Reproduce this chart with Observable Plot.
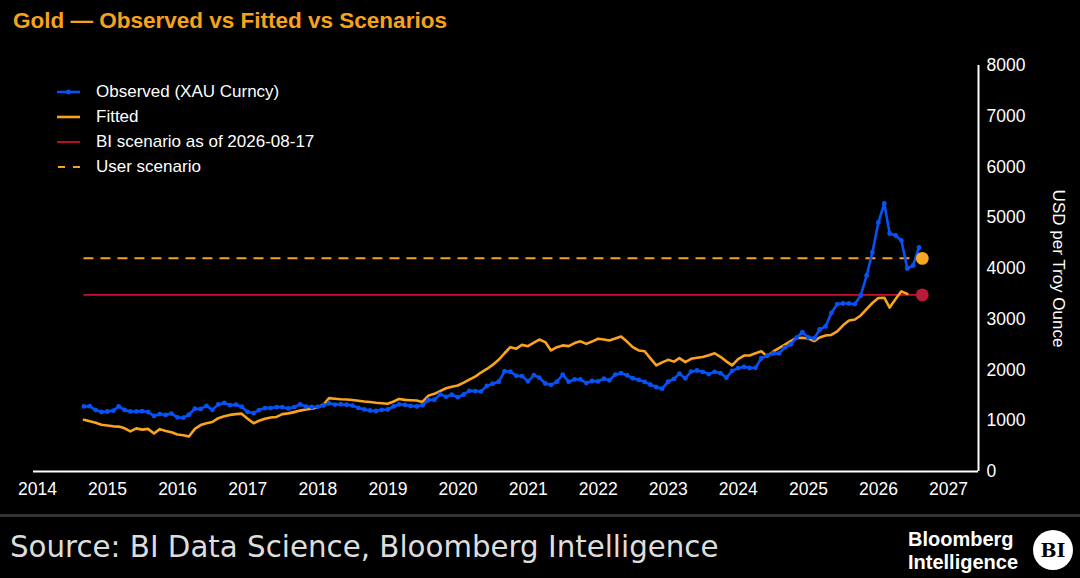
<!DOCTYPE html>
<html><head><meta charset="utf-8">
<script src="https://cdn.jsdelivr.net/npm/d3@7"></script>
<script src="https://cdn.jsdelivr.net/npm/@observablehq/plot@0.6"></script>
<style>
html,body{margin:0;padding:0;background:#000;}
#wrap{position:relative;width:1080px;height:578px;background:#000;overflow:hidden;font-family:"Liberation Sans",Arial,sans-serif;}
#title{position:absolute;left:13px;top:8px;font-size:22.5px;font-weight:bold;color:#F7A21B;white-space:nowrap;}
#chart{position:absolute;left:0;top:45px;}
#legend{position:absolute;left:57px;top:79px;}
.row{height:25px;display:flex;align-items:center;color:#fff;font-size:17px;white-space:nowrap;}
.row svg{margin-right:16px;flex:none;}
#sep{position:absolute;left:0;top:514px;width:1080px;height:3px;background:#333;}
#source{position:absolute;left:10px;top:530px;font-family:"DejaVu Sans",sans-serif;font-size:29.3px;color:#ddd;white-space:nowrap;}
#logo{position:absolute;left:908px;top:528px;color:#fff;font-weight:bold;font-size:20px;line-height:23px;}
#bi{position:absolute;left:1033px;top:530px;width:40px;height:40px;border-radius:50%;background:#fff;color:#000;font-family:"DejaVu Serif",serif;font-weight:bold;font-size:19px;display:flex;align-items:center;justify-content:center;}
</style></head>
<body>
<div id="wrap">
  <div id="title">Gold — Observed vs Fitted vs Scenarios</div>
  <div id="chart"></div>
  <div id="legend"></div>
  <div id="sep"></div>
  <div id="source">Source: BI Data Science, Bloomberg Intelligence</div>
  <div id="logo">Bloomberg<br>Intelligence</div>
  <div id="bi">BI</div>
</div>
<script>
// ---- Data (monthly, first point = end of Aug 2014) ----
const seriesNames = ["Observed (XAU Curncy)", "Fitted", "BI scenario as of 2026-08-17", "User scenario"];
const observed = [
  1282,1287,1210,1172,1182,1199,1283,1213,1183,1184,1190,1172,
  1095,1132,1115,1142,1065,1061,1118,1238,1233,1293,1215,1322,
  1351,1309,1316,1277,1173,1152,1211,1249,1249,1268,1268,1242,
  1269,1322,1280,1271,1275,1303,1345,1318,1325,1315,1299,1253,
  1224,1202,1192,1215,1222,1282,1321,1313,1292,1283,1305,1409,
  1414,1520,1472,1513,1464,1517,1589,1585,1577,1687,1730,1768,
  1975,1968,1886,1879,1777,1898,1848,1734,1708,1769,1907,1770,
  1814,1814,1743,1783,1775,1829,1797,1909,1937,1897,1837,1807,
  1766,1711,1661,1633,1768,1824,1928,1837,1969,1990,1963,1919,
  1965,1940,1849,1983,2036,2063,2039,2044,2230,2286,2327,2326,
  2447,2503,2635,2744,2643,2625,2798,2858,3124,3300,3310,3310,
  3300,3468,3862,4315,4906,5281,4690,4650,4552,4000,4059,4414
];
const fitted = [
  1020,990,960,920,905,890,885,850,790,850,825,840,
  750,835,800,775,730,715,690,840,915,950,975,1050,
  1090,1115,1130,1140,1040,950,1000,1040,1065,1075,1130,1145,
  1170,1200,1222,1235,1265,1320,1445,1435,1425,1418,1410,1395,
  1380,1370,1355,1345,1335,1380,1430,1412,1405,1400,1370,1495,
  1530,1585,1640,1670,1695,1750,1810,1870,1950,2020,2100,2200,
  2330,2450,2420,2495,2470,2540,2600,2550,2385,2450,2485,2470,
  2530,2565,2515,2560,2615,2600,2580,2620,2660,2560,2450,2385,
  2370,2230,2090,2150,2200,2165,2235,2155,2220,2240,2255,2290,
  2330,2260,2170,2090,2215,2285,2285,2330,2370,2266,2360,2430,
  2500,2570,2630,2634,2620,2570,2640,2680,2690,2760,2880,2975,
  2995,3075,3200,3320,3420,3425,3230,3400,3550,3500
];
const scenarioDate = new Date(Date.UTC(2026, 7, 17));
const biScenario = [3480];
const userScenario = [4200];
const yTicks = [0,1000,2000,3000,4000,5000,6000,7000,8000];

const monthEnd = i => new Date(Date.UTC(2014, 8 + i, 0));
const obsData = observed.map((v, i) => ({date: monthEnd(i), value: v}));
const fitData = fitted.map((v, i) => ({date: monthEnd(i), value: v}));
const startDate = obsData[0].date;

const C = {obs:"#0652F5", fit:"#F9A31E", bi:"#C4132F", biDot:"#B81C36", user:"#F2A12A", userDot:"#F9A825"};
const xStart = new Date(Date.UTC(2013, 11, 11));
const xEnd = new Date(Date.UTC(2027, 5, 6));

const plot = Plot.plot({
  width: 1080,
  height: 465,
  marginTop: 20,
  marginBottom: 39,
  marginLeft: 33,
  marginRight: 102,
  style: {background: "transparent", color: "#fff", fontFamily: "'Liberation Sans', Arial, sans-serif"},
  x: {type: "utc", domain: [xStart, xEnd]},
  y: {domain: [0, 8000]},
  marks: [
    Plot.ruleY(userScenario, {y: d => d, x1: startDate, x2: scenarioDate, stroke: C.user, strokeWidth: 2, strokeDasharray: "10,7"}),
    Plot.ruleY(biScenario, {y: d => d, x1: startDate, x2: scenarioDate, stroke: C.bi, strokeWidth: 1.6}),
    Plot.lineY(fitData, {x: "date", y: "value", stroke: C.fit, strokeWidth: 2.6}),
    Plot.lineY(obsData, {x: "date", y: "value", stroke: C.obs, strokeWidth: 2.6}),
    Plot.dot(obsData, {x: "date", y: "value", fill: C.obs, r: 2.4}),
    Plot.dot(userScenario, {x: () => scenarioDate, y: d => d, fill: C.userDot, r: 6.4}),
    Plot.dot(biScenario, {x: () => scenarioDate, y: d => d, fill: C.biDot, r: 6.4}),
    Plot.ruleY([0], {stroke: "#fff", strokeWidth: 2}),
    Plot.ruleX([xEnd], {y1: 0, y2: 8000, stroke: "#fff", strokeWidth: 2}),
    Plot.axisX({ticks: d3.utcYear.every(1), tickFormat: d3.utcFormat("%Y"), tickSize: 0, tickPadding: 11, fontSize: 17.5, fill: "#fff", label: null}),
    Plot.axisY({anchor: "right", ticks: yTicks, tickFormat: d3.format("d"), tickSize: 0, tickPadding: 8, fontSize: 17.5, fill: "#fff", label: null}),
    Plot.text(["USD per Troy Ounce"], {frameAnchor: "right", text: d => d, rotate: 90, dx: 80, textAnchor: "middle", fill: "#fff", fontSize: 17})
  ]
});
document.getElementById("chart").appendChild(plot);

// ---- Legend ----
const swatches = [
  `<svg width="23" height="12"><line x1="0" y1="6" x2="23" y2="6" stroke="${C.obs}" stroke-width="2.6"/><circle cx="11.5" cy="6" r="2.4" fill="${C.obs}"/></svg>`,
  `<svg width="23" height="12"><line x1="0" y1="6" x2="23" y2="6" stroke="${C.fit}" stroke-width="2.6"/></svg>`,
  `<svg width="23" height="12"><line x1="0" y1="6" x2="23" y2="6" stroke="${C.bi}" stroke-width="1.8"/></svg>`,
  `<svg width="23" height="12"><line x1="1" y1="6" x2="23" y2="6" stroke="${C.user}" stroke-width="2" stroke-dasharray="7,8"/></svg>`
];
document.getElementById("legend").innerHTML = seriesNames.map((n, i) =>
  `<div class="row">${swatches[i]}<span>${n}</span></div>`).join("");
</script>
</body></html>
